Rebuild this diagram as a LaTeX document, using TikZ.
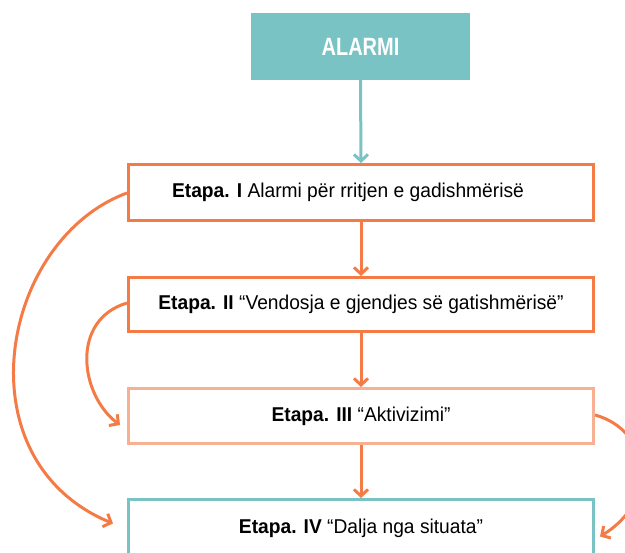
\documentclass[tikz,border=0pt]{standalone}
\usepackage{fontspec}
\setmainfont{Liberation Sans}[FakeStretch=0.8]
\newfontfamily\etfont{Liberation Sans}[FakeStretch=0.96]
\usetikzlibrary{arrows.meta}
\definecolor{teal}{HTML}{7AC3C4}
\definecolor{orng}{HTML}{F47B46}
\definecolor{salmon}{HTML}{F8B092}
\tikzset{
  box/.style={draw, line width=3pt, fill=white, minimum width=465pt, inner sep=0pt, font=\etfont\fontsize{20}{22}\selectfont, text=black},
  arr/.style={line width=3pt, -{Straight Barb[length=6.5pt,width=14pt,line width=3pt]}},
}
\begin{document}
\begin{tikzpicture}[x=1pt,y=-1pt]
\useasboundingbox (0,0) rectangle (625,553);
\node[fill=teal, minimum width=219pt, minimum height=67pt, inner sep=0pt, text=white, font=\fontsize{25}{28}\selectfont\bfseries] (alarm) at (360.5,46.5) {ALARMI};
\node[box, draw=orng, minimum height=56pt] (s1) at (361,192.5) {\textbf{Etapa. I} Alarmi për rritjen e gadishmërisë\hspace*{26pt}};
\node[box, draw=orng, minimum height=54pt] (s2) at (361,304.5) {\textbf{Etapa. II} “Vendosja e gjendjes së gatishmërisë”};
\node[box, draw=salmon, minimum height=55pt] (s3) at (361,416) {\textbf{Etapa. III} “Aktivizimi”};
\node[box, draw=teal, minimum height=80pt] (s4) at (361,539.5) {};
\node[font=\etfont\fontsize{20}{22}\selectfont] (s4t) at (361,528) {\textbf{Etapa. IV} “Dalja nga situata”};
\draw[arr, teal] (alarm.south) -- (s1.north);
\draw[arr, orng] (s1.south) -- (s2.north);
\draw[arr, orng] (s2.south) -- (s3.north);
\draw[arr, orng] (s3.south) -- (s4.north);
\draw[arr, orng] ([yshift=-0.5pt]s1.west) .. controls (0,240) and (-40,460) .. ([xshift=-14pt,yshift=16pt]s4.west);
\draw[arr, orng] ([yshift=1.5pt]s2.west) .. controls (70,320) and (80,395) .. ([xshift=-7pt,yshift=-9pt]s3.west);
\draw[arr, orng] ([yshift=1pt]s3.east) .. controls (650,430) and (660,500) .. ([xshift=5pt,yshift=3pt]s4.east);
\end{tikzpicture}
\end{document}
